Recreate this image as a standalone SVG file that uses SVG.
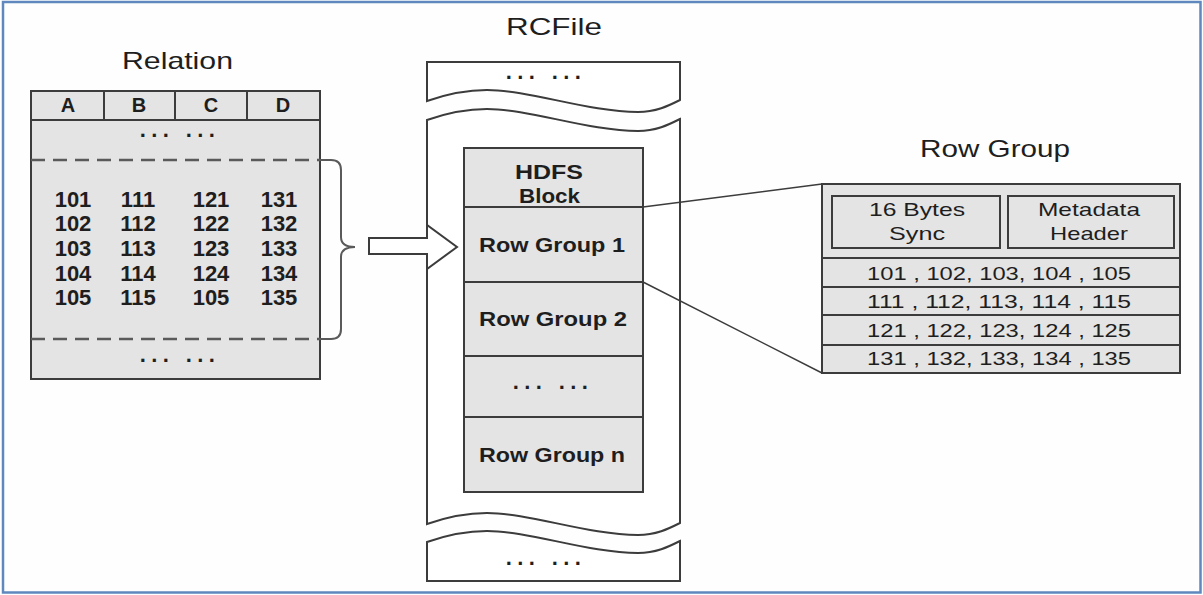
<svg xmlns="http://www.w3.org/2000/svg" width="1203" height="595" viewBox="0 0 1203 595">
<defs>
<style>
.ln{fill:none;stroke:#3c3c3c;stroke-width:2}
.cell{fill:#e4e4e4;stroke:#3c3c3c;stroke-width:2}
.wp{fill:#fff;stroke:#3c3c3c;stroke-width:2}
.dash{fill:none;stroke:#5a5a5a;stroke-width:2.5;stroke-dasharray:14 8}
text{font-family:"Liberation Sans",Arial,Helvetica,sans-serif;fill:#1e1e1e}
.t{font-size:24px}
.b{font-weight:bold}
.num{font-size:22px;font-weight:bold;text-anchor:middle}
.hd{font-size:20px;font-weight:bold;text-anchor:middle}
.dots{font-size:22px;font-weight:bold;letter-spacing:5.4px;text-anchor:middle}
.rg{font-size:21px;font-weight:bold}
.p{font-size:19px}
.conn{fill:none;stroke:#3c3c3c;stroke-width:1.5}
.br{fill:none;stroke:#5a5a5a;stroke-width:2}
</style>
</defs>
<rect width="1203" height="595" fill="#fff"/>
<rect id="frame" x="3" y="2" width="1197.5" height="590.5" fill="#fdfefd" stroke="#5f88bf" stroke-width="2.5"/>

<g id="relation">
<text class="t" x="122" y="69" textLength="111" lengthAdjust="spacingAndGlyphs">Relation</text>
<rect class="cell" x="31" y="91" width="289" height="288"/>
<path class="ln" d="M31,120H320M104,91V120M175,91V120M247,91V120"/>
<text class="hd" x="68" y="112">A</text>
<text class="hd" x="139" y="112">B</text>
<text class="hd" x="211" y="112">C</text>
<text class="hd" x="283" y="112">D</text>
<text class="dots" x="180" y="137">... ...</text>
<path class="dash" d="M31,160H320M31,339H320"/>
<text class="num" x="73" y="207">101</text><text class="num" x="138" y="207">111</text><text class="num" x="211" y="207">121</text><text class="num" x="279" y="207">131</text>
<text class="num" x="73" y="231">102</text><text class="num" x="138" y="231">112</text><text class="num" x="211" y="231">122</text><text class="num" x="279" y="231">132</text>
<text class="num" x="73" y="256">103</text><text class="num" x="138" y="256">113</text><text class="num" x="211" y="256">123</text><text class="num" x="279" y="256">133</text>
<text class="num" x="73" y="281">104</text><text class="num" x="138" y="281">114</text><text class="num" x="211" y="281">124</text><text class="num" x="279" y="281">134</text>
<text class="num" x="73" y="305">105</text><text class="num" x="138" y="305">115</text><text class="num" x="211" y="305">105</text><text class="num" x="279" y="305">135</text>
<text class="dots" x="180" y="362">... ...</text>
</g>

<g id="rcfile">
<text class="t" x="506" y="35" textLength="96" lengthAdjust="spacingAndGlyphs">RCFile</text>
<path class="wp" d="M427,62H680V100C668,106 656,112 638,112C588,112 530,90 487,90C467,90 447,94 427,101Z"/>
<text class="dots" x="546" y="79">... ...</text>
<path class="wp" d="M427,120C447,113 467,109 487,109C530,109 588,131 638,131C656,131 668,125 680,119V523C668,529 656,535 638,535C588,535 530,513 487,513C467,513 447,517 427,524Z"/>
<path class="wp" d="M427,542C447,535 467,531 487,531C530,531 588,553 638,553C656,553 668,547 680,541V581H427Z"/>
<text class="dots" x="546" y="565">... ...</text>
</g>

<g id="hdfs-block">
<rect class="cell" x="464" y="148" width="179" height="59"/>
<text class="rg" x="515" y="179" textLength="68" lengthAdjust="spacingAndGlyphs">HDFS</text>
<text class="rg" x="519" y="203" textLength="61" lengthAdjust="spacingAndGlyphs">Block</text>
</g>
<g id="row-group-1">
<rect class="cell" x="464" y="207" width="179" height="75"/>
<text class="rg" x="479" y="252" textLength="146" lengthAdjust="spacingAndGlyphs">Row Group 1</text>
</g>
<g id="row-group-2">
<rect class="cell" x="464" y="282" width="179" height="74"/>
<text class="rg" x="479" y="326" textLength="148" lengthAdjust="spacingAndGlyphs">Row Group 2</text>
</g>
<g id="row-group-dots">
<rect class="cell" x="464" y="356" width="179" height="61"/>
<text class="dots" x="553" y="389">... ...</text>
</g>
<g id="row-group-n">
<rect class="cell" x="464" y="417" width="179" height="75"/>
<text class="rg" x="479" y="462" textLength="146" lengthAdjust="spacingAndGlyphs">Row Group n</text>
</g>

<g id="row-group-detail">
<text class="t" x="920" y="157" textLength="150" lengthAdjust="spacingAndGlyphs">Row Group</text>
<rect class="cell" x="822" y="184" width="358" height="189"/>
<rect class="cell" x="832" y="196" width="168" height="52"/>
<rect class="cell" x="1008" y="196" width="166" height="52"/>
<text class="p" x="869" y="216" textLength="96" lengthAdjust="spacingAndGlyphs">16 Bytes</text>
<text class="p" x="889" y="240" textLength="56" lengthAdjust="spacingAndGlyphs">Sync</text>
<text class="p" x="1038" y="216" textLength="102" lengthAdjust="spacingAndGlyphs">Metadata</text>
<text class="p" x="1050" y="240" textLength="78" lengthAdjust="spacingAndGlyphs">Header</text>
<path class="ln" d="M822,258H1180M822,287H1180M822,315H1180M822,345H1180"/>
<text class="p" x="867" y="280" textLength="264" lengthAdjust="spacingAndGlyphs">101 , 102, 103, 104 , 105</text>
<text class="p" x="867" y="308" textLength="264" lengthAdjust="spacingAndGlyphs">111 , 112, 113, 114 , 115</text>
<text class="p" x="867" y="337" textLength="264" lengthAdjust="spacingAndGlyphs">121 , 122, 123, 124 , 125</text>
<text class="p" x="867" y="365" textLength="264" lengthAdjust="spacingAndGlyphs">131 , 132, 133, 134 , 135</text>
</g>

<g id="connectors">
<path class="br" d="M320,160H331Q341,160 341,170V237Q341,247 355,247Q341,247 341,257V329Q341,339 331,339H320"/>
<path d="M369,238H427V225L457,247L427,269V254H369Z" fill="#fff" stroke="#3c3c3c" stroke-width="2" stroke-linejoin="miter"/>
<path class="conn" d="M643,207L822,184M643,282L822,373"/>
</g>
</svg>
